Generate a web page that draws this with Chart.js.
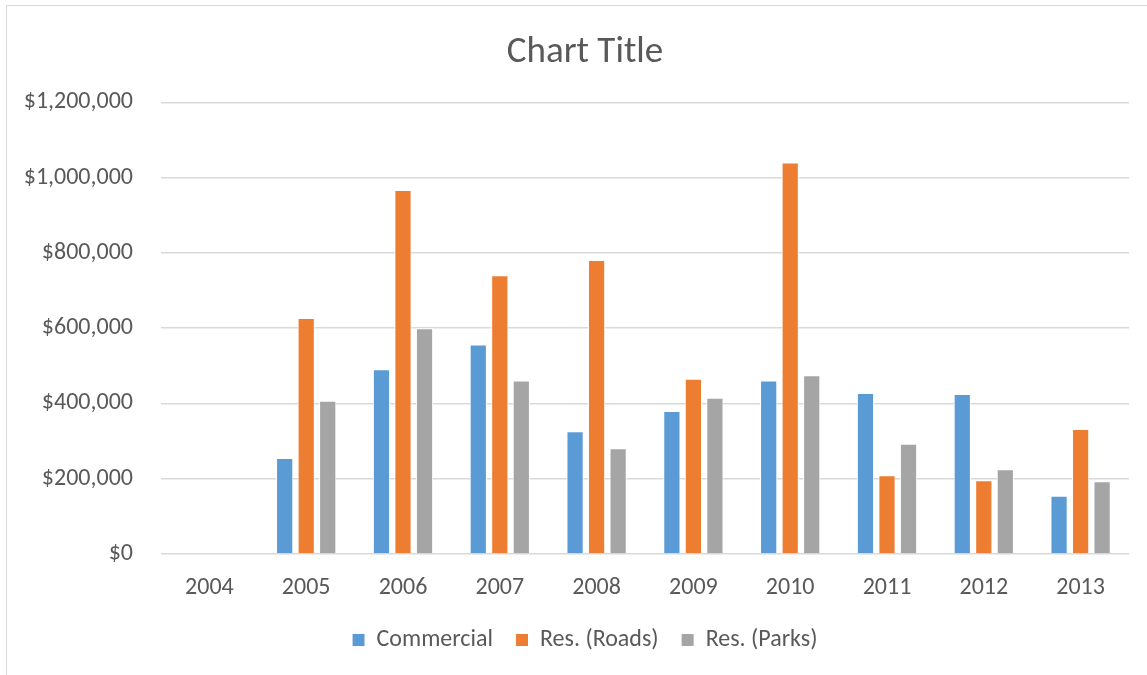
<!DOCTYPE html>
<html>
<head>
<meta charset="utf-8">
<script src="https://cdn.jsdelivr.net/npm/chart.js@4/dist/chart.umd.min.js"></script>
<style>
  body { margin: 0; background: #fff; }
  #frame { position: absolute; left: 6px; top: 5px; width: 1145px; height: 672px; border: 1px solid #d9d9d9; }
  #wrap { position: absolute; left: 0; top: 0; width: 1147px; height: 675px; }
</style>
</head>
<body>
<div id="frame"></div>
<div id="wrap"><canvas id="chartAnual"></canvas></div>
<script>
// Datos del gráfico
const anios = ['2004', '2005', '2006', '2007', '2008', '2009', '2010', '2011', '2012', '2013'];
const comercial = [null, 255000, 491000, 557000, 326000, 380000, 461000, 428000, 425000, 155000];
const resCaminos = [null, 627000, 967000, 741000, 781000, 466000, 1040000, 209000, 196000, 332000];
const resParques = [null, 407000, 600000, 461000, 281000, 415000, 475000, 293000, 225000, 193000];
const ticksY = [0, 200000, 400000, 600000, 800000, 1000000, 1200000];

const fuente = 'Calibri, Carlito, "Open Sans", "Liberation Sans", sans-serif';
const gris = '#595959';

function serie(label, data, color) {
    return {
        label: label,
        data: data,
        backgroundColor: color,
        borderColor: '#ffffff',
        borderWidth: 1,
        categoryPercentage: 0.667,
        barPercentage: 0.8
    };
}

const ctx = document.getElementById('chartAnual').getContext('2d');
new Chart(ctx, {
    type: 'bar',
    data: {
        labels: anios,
        datasets: [
            serie('Commercial', comercial, '#5b9bd5'),
            serie('Res. (Roads)', resCaminos, '#ed7d31'),
            serie('Res. (Parks)', resParques, '#a5a5a5')
        ]
    },
    options: {
        responsive: true,
        maintainAspectRatio: false,
        animation: false,
        layout: { padding: { left: 41, right: 18, top: 20, bottom: 13 } },
        plugins: {
            title: {
                display: true,
                text: 'Chart Title',
                color: gris,
                font: { family: fuente, size: 37, weight: 'normal' },
                padding: { top: 11, bottom: 27 }
            },
            legend: {
                position: 'bottom',
                labels: {
                    color: gris,
                    font: { family: fuente, size: 24 },
                    boxWidth: 12,
                    boxHeight: 12,
                    padding: 23,
                    generateLabels: chart => Chart.defaults.plugins.legend.labels.generateLabels(chart).map(l => {
                        l.strokeStyle = l.fillStyle;
                        l.lineWidth = 0;
                        return l;
                    })
                }
            },
            tooltip: { enabled: false }
        },
        scales: {
            x: {
                afterFit: scale => { scale.height = 51; },
                grid: { display: false, drawTicks: false },
                border: { display: false },
                ticks: { color: gris, font: { family: fuente, size: 24 }, padding: 20 }
            },
            y: {
                min: 0,
                max: 1200000,
                afterBuildTicks: scale => { scale.ticks = ticksY.map(v => ({ value: v })); },
                afterFit: scale => {
                    scale.width = 120;
                    // las etiquetas salen del margen izquierdo, sin recorte
                    scale._computeLabelArea = () => null;
                },
                grid: { color: '#d9d9d9', lineWidth: 1.5, drawTicks: false },
                border: { display: false },
                ticks: {
                    color: gris,
                    font: { family: fuente, size: 24 },
                    padding: 28,
                    callback: v => '$' + v.toLocaleString('en-US')
                }
            }
        }
    }
});
</script>
</body>
</html>
